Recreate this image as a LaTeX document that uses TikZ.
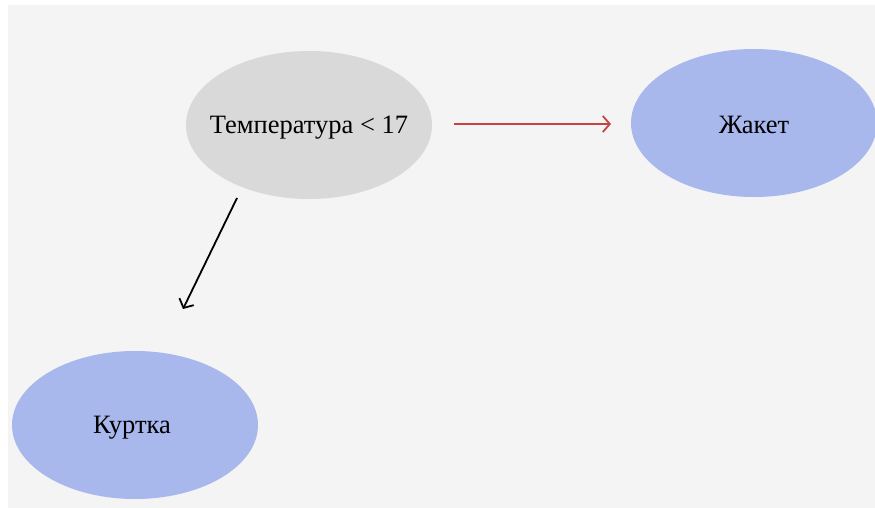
\documentclass[tikz,border=0pt]{standalone}
\usepackage{fontspec}
\setmainfont{Liberation Serif}
\usetikzlibrary{shapes.geometric,arrows.meta}
\definecolor{bg}{HTML}{F4F4F4}
\definecolor{grayfill}{HTML}{D9D9D9}
\definecolor{bluefill}{HTML}{A8B7EC}
\definecolor{redline}{HTML}{C84444}
\begin{document}
\begin{tikzpicture}[x=1pt,y=-1pt,
  oval/.style={ellipse,draw=none,minimum width=246pt,minimum height=148pt,inner sep=0pt},
  lbl/.style={anchor=base,inner sep=0pt,font=\fontsize{26.5}{30}\selectfont},
  arr/.style={line width=1.8pt,-{Straight Barb[length=7pt,width=16pt,line width=1.8pt]}}]
\useasboundingbox (0,0) rectangle (875,508);
\fill[white] (0,0) rectangle (875,508);
\fill[bg] (8,5) rectangle (875,508);
\node[oval,fill=grayfill] (t) at (309,125) {};
\node[oval,fill=bluefill] (j) at (754,123) {};
\node[oval,fill=bluefill] (k) at (135,425) {};
\node[lbl] (tt) at (309,133) {Температура < 17};
\node[lbl] (jt) at (754,133) {Жакет};
\node[lbl] (kt) at (132,433) {Куртка};
\coordinate (a1) at (454,124);
\coordinate (a2) at (611,124);
\coordinate (b1) at (237,198);
\coordinate (b2) at (183,309);
\draw[arr,redline] (a1) -- (a2);
\draw[arr,black] (b1) -- (b2);
\end{tikzpicture}
\end{document}
